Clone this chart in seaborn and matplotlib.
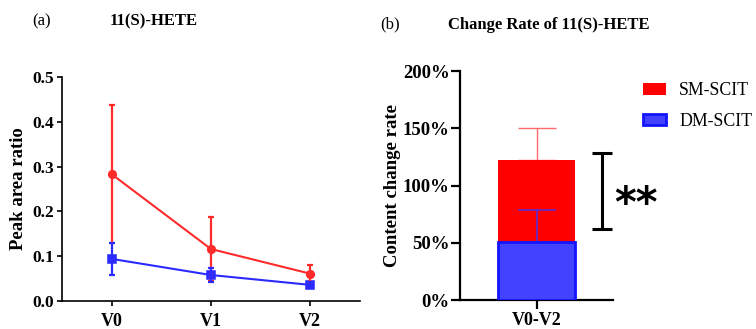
import numpy as np
import pandas as pd
import matplotlib
matplotlib.use("Agg")
import matplotlib.pyplot as plt
import seaborn as sns

# ---------------- data ----------------
visits = ["V0", "V1", "V2"]
groups = ["SM-SCIT", "DM-SCIT"]
sm_mean = [0.283, 0.116, 0.061]
sm_err = [0.154, 0.071, 0.019]
dm_mean = [0.094, 0.058, 0.036]
dm_err = [0.036, 0.015, 0.007]

rate_label = ["V0-V2"]
rate_mean = [122, 50.5]   # SM-SCIT, DM-SCIT (%)
rate_err = [28, 28]
sig_low, sig_high = 62, 128
sig_text = "**"

# ---------------- style ----------------
sns.set_theme(style="ticks")
plt.rcParams["font.family"] = ["Liberation Serif", "DejaVu Sans"]
plt.rcParams["axes.linewidth"] = 1.2
for k in ["text.color", "axes.labelcolor", "xtick.color", "ytick.color",
          "axes.edgecolor"]:
    plt.rcParams[k] = "black"

red_line = "#ff2b2b"
blue_line = "#2b2bff"

fig = plt.figure(figsize=(7.56, 3.29), dpi=100)
ax1 = fig.add_axes([0.082, 0.0851, 0.394, 0.681])
ax2 = fig.add_axes([0.6085, 0.0881, 0.2024, 0.696])

# ---------------- left panel ----------------
df_line = pd.DataFrame({
    "visit": visits * 2,
    "value": sm_mean + dm_mean,
    "group": [groups[0]] * 3 + [groups[1]] * 3,
})
sns.pointplot(data=df_line, x="visit", y="value", hue="group",
              hue_order=groups, palette=[red_line, blue_line],
              markers=["o", "s"], errorbar=None, ax=ax1,
              markersize=5.5, linewidth=1.5, legend=False)
pos = np.arange(len(visits))
ax1.errorbar(pos, sm_mean, yerr=sm_err, fmt="none", ecolor=red_line,
             elinewidth=1.6, capsize=2.2, capthick=1.6, zorder=2)
ax1.errorbar(pos, dm_mean, yerr=dm_err, fmt="none", ecolor=blue_line,
             elinewidth=1.6, capsize=2.2, capthick=1.6, zorder=4)
ax1.set_xlim(-0.5, 2.5)
ax1.set_ylim(0, 0.5)
ax1.set_yticks([0.0, 0.1, 0.2, 0.3, 0.4, 0.5])
ax1.set_yticklabels(["0.0", "0.1", "0.2", "0.3", "0.4", "0.5"])
ax1.set_xlabel("")
ax1.set_ylabel("Peak area ratio", fontsize=13.5, fontweight="bold", labelpad=4)
ax1.tick_params(axis="both", length=3.5, width=1.2, color="black")
ax1.tick_params(axis="y", pad=2)
ax1.tick_params(axis="x", pad=5)
for lab in ax1.get_yticklabels():
    lab.set_fontweight("bold")
    lab.set_fontsize(12.5)
for lab in ax1.get_xticklabels():
    lab.set_fontweight("bold")
    lab.set_fontsize(13)
sns.despine(ax=ax1)

# ---------------- right panel ----------------
df_bar = pd.DataFrame({
    "period": rate_label * 2,
    "rate": rate_mean,
    "group": groups,
})
sns.barplot(data=df_bar, x="period", y="rate", hue="group", hue_order=groups,
            palette=["#ff0000", "#4343ff"], dodge=False, width=0.5,
            errorbar=None, ax=ax2, legend=False, saturation=1)
bars = ax2.patches
bars[0].set_edgecolor("#ff0000")
bars[0].set_linewidth(0)
bars[0].set_zorder(2)
bars[1].set_edgecolor("#1414ff")
bars[1].set_linewidth(2)
bars[1].set_zorder(3)
ax2.errorbar([0], [rate_mean[0]], yerr=[[0], [rate_err[0]]], fmt="none",
             ecolor="#ff6a6a", elinewidth=1.0, capsize=13.5, capthick=1.0, zorder=1)
ax2.errorbar([0], [rate_mean[1]], yerr=[[0], [rate_err[1]]], fmt="none",
             ecolor="#5a2ad0", elinewidth=1.2, capsize=13.5, capthick=1.2, zorder=2.5)

# significance bracket
bx = 0.43
ax2.vlines(bx, sig_low, sig_high, color="black", linewidth=2.2, clip_on=False)
ax2.hlines([sig_low, sig_high], bx - 0.065, bx + 0.065, color="black",
           linewidth=2.2, clip_on=False)
ax2.text(0.65, 83, sig_text, fontsize=30, fontweight="bold",
         family="DejaVu Sans", ha="center", va="center", clip_on=False)

ax2.set_xlim(-0.5, 0.5)
ax2.set_ylim(0, 200)
ax2.set_yticks([0, 50, 100, 150, 200])
ax2.set_yticklabels(["0%", "50%", "100%", "150%", "200%"])
ax2.set_xlabel("")
ax2.set_ylabel("Content change rate", fontsize=13.5, fontweight="bold", labelpad=1)
ax2.tick_params(axis="both", length=6.5, width=1.6, color="black")
ax2.tick_params(axis="y", pad=1)
ax2.tick_params(axis="x", pad=2)
for lab in ax2.get_yticklabels():
    lab.set_fontweight("bold")
    lab.set_fontsize(13.5)
for lab in ax2.get_xticklabels():
    lab.set_fontweight("bold")
    lab.set_fontsize(13)
sns.despine(ax=ax2)
for s in ["left", "bottom"]:
    ax2.spines[s].set_linewidth(1.6)

# legend
leg = ax2.legend(handles=[bars[0], bars[1]], labels=groups,
                 loc="upper left", bbox_to_anchor=(0.850, 0.75),
                 bbox_transform=fig.transFigure, frameon=False,
                 fontsize=12.8, handlelength=1.3, handleheight=0.62,
                 handletextpad=0.75, labelspacing=0.75, borderaxespad=0,
                 borderpad=0)

# titles
fig.text(0.043, 0.935, "(a)", fontsize=12, ha="left", va="center")
fig.text(0.145, 0.935, "11(S)-HETE", fontsize=12, fontweight="bold",
         ha="left", va="center")
fig.text(0.503, 0.925, "(b)", fontsize=12, ha="left", va="center")
fig.text(0.593, 0.925, "Change Rate of 11(S)-HETE", fontsize=12,
         fontweight="bold", ha="left", va="center")

fig.savefig("out.png", dpi=100)
